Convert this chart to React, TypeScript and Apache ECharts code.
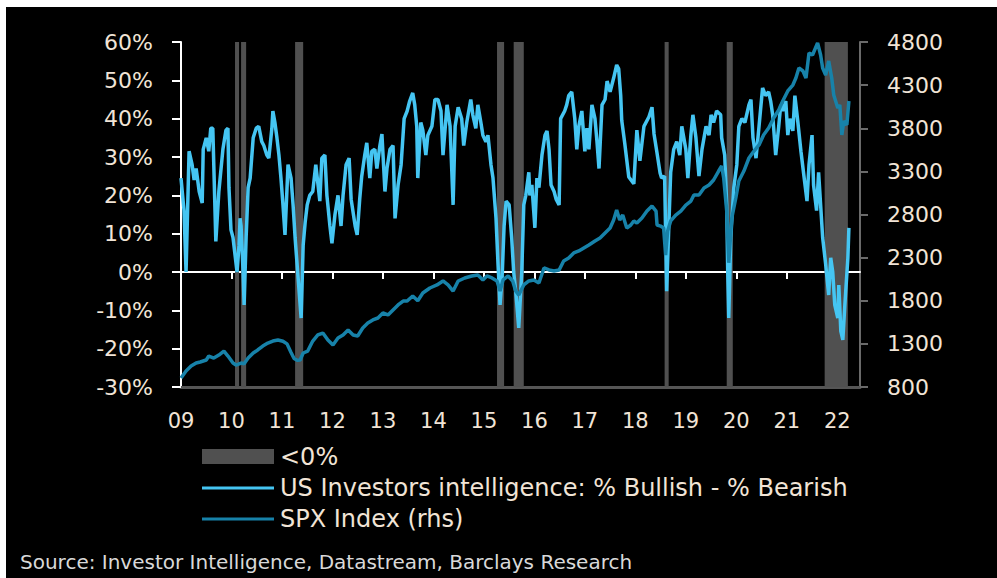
import React, { useEffect, useRef } from "react";
import * as echarts from "echarts";

const yearTicks = [2009, 2010, 2011, 2012, 2013, 2014, 2015, 2016, 2017, 2018, 2019, 2020, 2021, 2022];
const spxTicks = [800, 1300, 1800, 2300, 2800, 3300, 3800, 4300, 4800];

const bullBear: [number, number][] = [
  [2009.0, 24.5], [2009.06, 16], [2009.1, 0], [2009.16, 31.5], [2009.22, 28], [2009.26, 24], [2009.3, 27], [2009.36, 21],
  [2009.42, 18], [2009.44, 32], [2009.5, 35], [2009.55, 31.5], [2009.59, 37.5], [2009.63, 37.5], [2009.69, 8], [2009.75, 21],
  [2009.83, 32], [2009.89, 37], [2009.93, 37.5], [2009.95, 22], [2009.99, 11], [2010.03, 9], [2010.07, 4.5], [2010.11, 0],
  [2010.15, 7], [2010.17, 14], [2010.19, 12], [2010.23, 0], [2010.25, -8.6], [2010.29, 9], [2010.33, 22], [2010.37, 24.5],
  [2010.43, 35], [2010.49, 37.5], [2010.54, 38], [2010.6, 34], [2010.64, 33], [2010.7, 30.5], [2010.74, 29.7], [2010.8, 37.5],
  [2010.82, 42], [2010.86, 39], [2010.9, 35], [2010.94, 30.5], [2010.98, 24.5], [2011.02, 17.5], [2011.06, 9.7], [2011.12, 28],
  [2011.18, 24.5], [2011.22, 17.5], [2011.26, 9], [2011.32, -1.6], [2011.38, -12], [2011.42, 7], [2011.46, 13], [2011.5, 17.5],
  [2011.55, 20], [2011.61, 21], [2011.67, 28], [2011.75, 18.5], [2011.79, 29.7], [2011.85, 30.5], [2011.89, 20], [2011.95, 12],
  [2011.99, 7.5], [2012.05, 15], [2012.11, 20], [2012.17, 12], [2012.21, 20], [2012.27, 28], [2012.33, 29.7], [2012.37, 19],
  [2012.45, 12], [2012.49, 9.7], [2012.54, 19], [2012.58, 25], [2012.64, 30.5], [2012.68, 33.7], [2012.74, 24.5], [2012.78, 31.5],
  [2012.84, 32], [2012.88, 27], [2012.94, 33], [2012.98, 36], [2013.04, 21], [2013.08, 27], [2013.14, 32], [2013.2, 33],
  [2013.24, 14], [2013.3, 22.7], [2013.36, 28], [2013.42, 40], [2013.48, 42], [2013.53, 44.6], [2013.59, 46.7], [2013.63, 43.6],
  [2013.67, 38], [2013.69, 24.5], [2013.75, 39], [2013.79, 37], [2013.85, 30.5], [2013.89, 35.7], [2013.97, 38], [2014.03, 45],
  [2014.09, 45], [2014.15, 42], [2014.19, 30.5], [2014.27, 43.6], [2014.33, 38], [2014.39, 17.5], [2014.43, 38], [2014.49, 43],
  [2014.56, 40], [2014.6, 33], [2014.66, 39], [2014.74, 45], [2014.78, 41], [2014.84, 37.5], [2014.88, 43.6], [2014.94, 39],
  [2014.98, 35.7], [2015.04, 34], [2015.08, 35.7], [2015.14, 28], [2015.18, 24.5], [2015.24, 14], [2015.28, 2], [2015.32, -8.6],
  [2015.36, -1.5], [2015.4, 12], [2015.44, 18.5], [2015.5, 17.5], [2015.55, 9], [2015.59, 0], [2015.63, -5], [2015.69, -14.6],
  [2015.75, 0], [2015.79, 17.5], [2015.83, 20], [2015.89, 26], [2015.91, 20], [2015.95, 22.7], [2016.01, 11.5], [2016.05, 24.5],
  [2016.09, 22], [2016.15, 30.5], [2016.21, 35.7], [2016.25, 36.8], [2016.29, 32], [2016.33, 22.7], [2016.39, 21], [2016.43, 19],
  [2016.49, 17.5], [2016.52, 40], [2016.6, 42], [2016.64, 43.6], [2016.68, 46], [2016.74, 47], [2016.8, 40], [2016.84, 32],
  [2016.88, 38], [2016.94, 42], [2017.0, 31.5], [2017.04, 37.5], [2017.08, 32], [2017.14, 43.6], [2017.2, 40], [2017.24, 34],
  [2017.28, 27], [2017.34, 43.6], [2017.4, 45], [2017.44, 49.8], [2017.5, 47], [2017.57, 50.6], [2017.63, 54], [2017.67, 53],
  [2017.71, 46], [2017.73, 39.6], [2017.79, 33.6], [2017.87, 24.8], [2017.97, 23], [2018.03, 37], [2018.09, 29], [2018.17, 38],
  [2018.27, 40.5], [2018.33, 43], [2018.37, 36], [2018.43, 31], [2018.49, 25.8], [2018.52, 24.5], [2018.58, 25], [2018.62, -5],
  [2018.66, 10.7], [2018.7, 26], [2018.76, 32], [2018.82, 34], [2018.88, 30.5], [2018.92, 38], [2019.0, 32], [2019.04, 24.5],
  [2019.1, 35.7], [2019.14, 41], [2019.2, 35], [2019.26, 25], [2019.32, 32], [2019.4, 38], [2019.46, 35.7], [2019.5, 41],
  [2019.55, 39], [2019.61, 42], [2019.69, 41], [2019.71, 35], [2019.77, 30.5], [2019.81, 17.5], [2019.83, 0], [2019.85, -12],
  [2019.89, 9], [2019.95, 22], [2020.01, 28], [2020.05, 38], [2020.11, 40], [2020.17, 39], [2020.25, 43.6], [2020.29, 45],
  [2020.33, 35], [2020.39, 29.7], [2020.45, 38], [2020.52, 48], [2020.58, 46], [2020.64, 47], [2020.68, 44.6], [2020.72, 41],
  [2020.78, 30.5], [2020.84, 38], [2020.88, 43.6], [2020.92, 42], [2020.98, 44.6], [2021.02, 35.7], [2021.06, 40], [2021.12, 36.8],
  [2021.16, 46], [2021.22, 39], [2021.28, 31.5], [2021.34, 25], [2021.4, 18.5], [2021.44, 28], [2021.5, 35.7], [2021.53, 22.7],
  [2021.59, 16], [2021.63, 26], [2021.67, 17.5], [2021.71, 9], [2021.77, 2], [2021.83, -6], [2021.87, 3.7], [2021.91, 0],
  [2021.95, -8.6], [2022.01, -12], [2022.03, -3.4], [2022.07, -15.4], [2022.11, -17.7], [2022.15, -8.6], [2022.21, 3.7], [2022.23, 11.5],
];

const spx: [number, number][] = [
  [2009.0, 905], [2009.1, 985], [2009.2, 1043], [2009.3, 1078], [2009.38, 1090], [2009.5, 1113], [2009.55, 1159], [2009.65, 1136],
  [2009.75, 1171], [2009.85, 1217], [2009.93, 1159], [2010.03, 1078], [2010.09, 1055], [2010.19, 1078], [2010.25, 1070], [2010.33, 1136],
  [2010.43, 1194], [2010.52, 1229], [2010.62, 1275], [2010.72, 1310], [2010.82, 1333], [2010.92, 1345], [2011.02, 1330], [2011.1, 1300],
  [2011.18, 1200], [2011.24, 1130], [2011.3, 1110], [2011.36, 1113], [2011.42, 1194], [2011.51, 1217], [2011.61, 1333], [2011.71, 1403],
  [2011.81, 1426], [2011.91, 1345], [2012.01, 1287], [2012.11, 1368], [2012.21, 1403], [2012.31, 1461], [2012.41, 1403], [2012.5, 1391],
  [2012.6, 1484], [2012.7, 1542], [2012.8, 1577], [2012.9, 1600], [2013.0, 1658], [2013.1, 1635], [2013.2, 1693], [2013.3, 1751],
  [2013.4, 1797], [2013.48, 1797], [2013.59, 1855], [2013.69, 1800], [2013.79, 1890], [2013.93, 1948], [2014.07, 1983], [2014.19, 2029],
  [2014.29, 1983], [2014.39, 1913], [2014.49, 2029], [2014.62, 2064], [2014.76, 2087], [2014.88, 2099], [2014.98, 2041], [2015.06, 2087],
  [2015.16, 2064], [2015.26, 2029], [2015.32, 1913], [2015.38, 2041], [2015.48, 2087], [2015.57, 2029], [2015.63, 1913], [2015.69, 1867],
  [2015.79, 1983], [2015.89, 2029], [2015.99, 2041], [2016.09, 2006], [2016.19, 2180], [2016.29, 2157], [2016.39, 2145], [2016.49, 2157],
  [2016.58, 2261], [2016.68, 2296], [2016.78, 2354], [2016.88, 2377], [2016.98, 2412], [2017.08, 2447], [2017.2, 2493], [2017.3, 2528],
  [2017.4, 2586], [2017.5, 2643], [2017.57, 2736], [2017.63, 2852], [2017.69, 2736], [2017.75, 2794], [2017.83, 2643], [2017.91, 2678],
  [2017.97, 2725], [2018.03, 2701], [2018.13, 2759], [2018.23, 2840], [2018.33, 2898], [2018.41, 2840], [2018.43, 2678], [2018.5, 2666],
  [2018.56, 2643], [2018.6, 2330], [2018.64, 2609], [2018.7, 2725], [2018.8, 2794], [2018.9, 2840], [2019.0, 2910], [2019.1, 2956],
  [2019.16, 3026], [2019.26, 3026], [2019.36, 3107], [2019.46, 3142], [2019.55, 3200], [2019.65, 3304], [2019.71, 3362], [2019.75, 3223],
  [2019.81, 2840], [2019.85, 2240], [2019.91, 2759], [2019.99, 2991], [2020.05, 3188], [2020.15, 3304], [2020.25, 3455], [2020.35, 3536],
  [2020.45, 3606], [2020.54, 3722], [2020.64, 3803], [2020.74, 3919], [2020.84, 4011], [2020.92, 4116], [2021.02, 4232], [2021.12, 4301],
  [2021.18, 4383], [2021.24, 4499], [2021.32, 4464], [2021.38, 4383], [2021.44, 4672], [2021.51, 4649], [2021.61, 4790], [2021.67, 4649],
  [2021.71, 4499], [2021.77, 4417], [2021.83, 4580], [2021.89, 4383], [2021.93, 4185], [2022.01, 4035], [2022.05, 4070], [2022.09, 3722],
  [2022.13, 3884], [2022.19, 3838], [2022.23, 4116],
];

const negStart = [2010.07, 2010.19, 2011.26, 2015.26, 2015.59, 2018.58, 2019.81, 2021.75];
const negEnd = [2010.15, 2010.29, 2011.42, 2015.4, 2015.79, 2018.66, 2019.93, 2022.21];

const FONT = "DejaVu Sans";
const TXT = "#f1e4d6";
const BULL = "#45c5f2";
const SPXC = "#1782a9";
const BAND = "#505050";

export default function App() {
  const ref = useRef<HTMLDivElement>(null);
  useEffect(() => {
    const chart = echarts.init(ref.current!, null, { renderer: "svg" });
    chart.setOption({
      animation: false,
      backgroundColor: "#000",
      grid: { left: 175, right: 137, top: 35, bottom: 191 },
      xAxis: [
        {
          type: "value", min: 2009, max: 2022.45, position: "bottom",
          axisLine: { show: true, onZero: true, onZeroAxisIndex: 0, lineStyle: { color: "#fff", width: 2 } },
          axisTick: { show: true, length: 7, customValues: yearTicks, lineStyle: { color: "#fff", width: 2 } },
          axisLabel: { show: false },
          splitLine: { show: false },
        },
        {
          type: "value", min: 2009, max: 2022.45, position: "bottom",
          axisLine: { show: true, onZero: false, lineStyle: { color: "#555", width: 3 } },
          axisTick: { show: false },
          axisLabel: {
            customValues: yearTicks,
            formatter: (v: number) => String(v).slice(2),
            color: TXT, fontSize: 21, fontFamily: FONT, margin: 23,
          },
          splitLine: { show: false },
        },
      ],
      yAxis: [
        {
          type: "value", min: -30, max: 60, interval: 10, position: "left",
          axisLine: { show: true, onZero: false, lineStyle: { color: "#fff", width: 2 } },
          axisTick: { show: true, length: 9, lineStyle: { color: "#fff", width: 2 } },
          axisLabel: { formatter: "{value}%", color: TXT, fontSize: 22, fontFamily: FONT, margin: 28 },
          splitLine: { show: false },
        },
        {
          type: "value", min: 800, max: 4800, position: "right",
          axisLine: { show: true, onZero: false, lineStyle: { color: "#6a6a6a", width: 2 } },
          axisTick: { show: true, length: 8, customValues: spxTicks, lineStyle: { color: "#6a6a6a", width: 2 } },
          axisLabel: {
            customValues: spxTicks, formatter: (v: number) => String(v),
            color: TXT, fontSize: 22, fontFamily: FONT, margin: 27,
          },
          splitLine: { show: false },
        },
      ],
      series: [
        {
          name: "<0%", type: "line", data: [], xAxisIndex: 0, yAxisIndex: 0, silent: true, z: 1,
          markArea: {
            silent: true,
            itemStyle: { color: BAND, opacity: 1 },
            data: negStart.map((s, i) => [{ xAxis: s }, { xAxis: negEnd[i] }]),
          },
        },
        {
          name: "US Investors intelligence: % Bullish - % Bearish", type: "line", data: bullBear,
          xAxisIndex: 0, yAxisIndex: 0, showSymbol: false, z: 3,
          lineStyle: { color: BULL, width: 3.5 }, itemStyle: { color: BULL },
        },
        {
          name: "SPX Index (rhs)", type: "line", data: spx,
          xAxisIndex: 0, yAxisIndex: 1, showSymbol: false, z: 4,
          lineStyle: { color: SPXC, width: 3.5 }, itemStyle: { color: SPXC },
        },
      ],
      graphic: [
        { type: "rect", shape: { x: 196, y: 442, width: 72, height: 15 }, style: { fill: BAND } },
        { type: "text", x: 274, y: 450, style: { text: "<0%", fill: TXT, fontSize: 24, fontFamily: FONT, verticalAlign: "middle" } },
        { type: "line", shape: { x1: 196, y1: 481, x2: 268, y2: 481 }, style: { stroke: BULL, lineWidth: 3 } },
        { type: "text", x: 274, y: 481, style: { text: "US Investors intelligence: % Bullish - % Bearish", fill: TXT, fontSize: 24, fontFamily: FONT, verticalAlign: "middle" } },
        { type: "line", shape: { x1: 196, y1: 512, x2: 268, y2: 512 }, style: { stroke: SPXC, lineWidth: 3 } },
        { type: "text", x: 274, y: 512, style: { text: "SPX Index (rhs)", fill: TXT, fontSize: 24, fontFamily: FONT, verticalAlign: "middle" } },
        { type: "text", x: 14, y: 566, style: { text: "Source: Investor Intelligence, Datastream, Barclays Research", fill: "#d9d9d9", fontSize: 20, lineHeight: 22, fontFamily: FONT, verticalAlign: "bottom" } },
      ],
    });
    return () => chart.dispose();
  }, []);
  return (
    <div style={{ position: "fixed", left: 0, top: 0, width: 997, height: 578, background: "#fff", overflow: "hidden" }}>
      <div ref={ref} style={{ position: "absolute", left: 6, top: 7, width: 991, height: 571 }} />
    </div>
  );
}
